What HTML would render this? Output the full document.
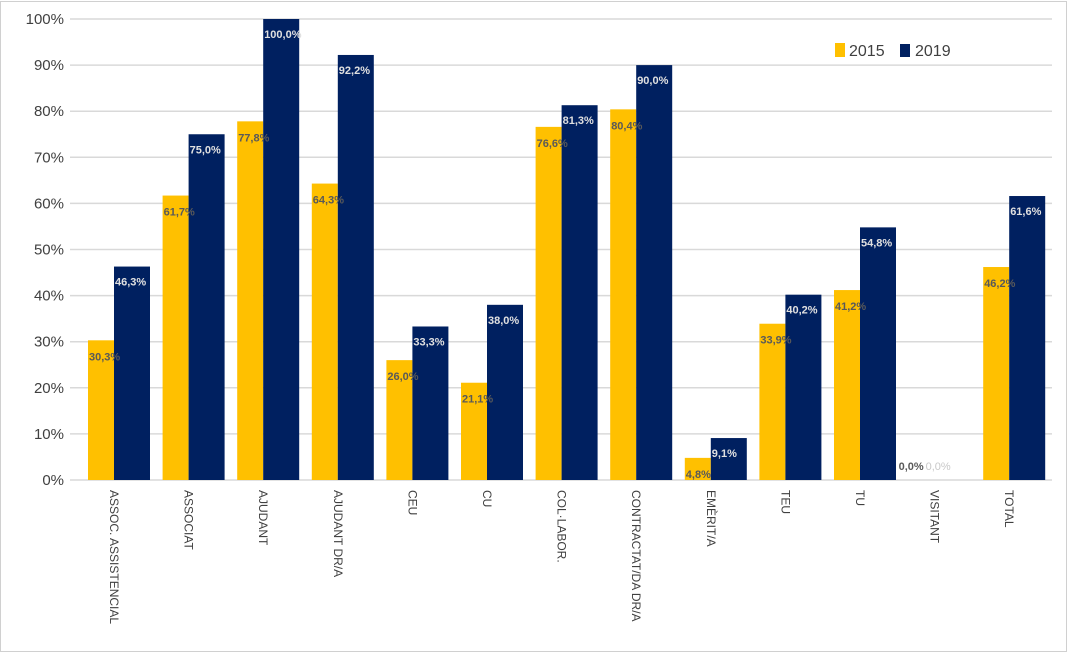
<!DOCTYPE html>
<html><head><meta charset="utf-8"><style>
html,body{margin:0;padding:0;background:#fff;}
svg{display:block;font-family:"Liberation Sans",sans-serif;}
</style></head><body>
<svg width="1068" height="653" viewBox="0 0 1068 653" xmlns="http://www.w3.org/2000/svg">
<rect x="0.5" y="1.5" width="1066" height="650" fill="#fff" stroke="#d0d0d0"/>
<g id="grid" stroke="#d9d9d9" stroke-width="1.5"></g>
<g id="yl" font-size="15" fill="#404040" text-anchor="end"></g>
<g id="bars"></g>
<g id="xl" font-size="12" fill="#404040"></g>
<rect x="835" y="43" width="10" height="14" fill="#FFC000"/>
<text x="849" y="56" font-size="16" fill="#404040">2015</text>
<rect x="900" y="44" width="10" height="13" fill="#002060"/>
<text x="915" y="56" font-size="16" fill="#404040">2019</text>
</svg>
<script>
const ns="http://www.w3.org/2000/svg";
function el(p,t,a,txt){const e=document.createElementNS(ns,t);for(const k in a)e.setAttribute(k,a[k]);if(txt!==undefined)e.textContent=txt;document.getElementById(p).appendChild(e);}
const y0=480,ppu=4.61;
for(let i=0;i<=10;i++){const y=y0-i*10*ppu;el('grid','line',{x1:70,x2:1052,y1:y,y2:y});el('yl','text',{x:64,y:y+5},(i*10)+'%');}
const cats=["ASSOC. ASSISTENCIAL","ASSOCIAT","AJUDANT","AJUDANT DR/A","CEU","CU","COL·LABOR.","CONTRACTAT/DA DR/A","EMÈRIT/A","TEU","TU","VISITANT","TOTAL"];
const a=[30.3,61.7,77.8,64.3,26.0,21.1,76.6,80.4,4.8,33.9,41.2,0,46.2];
const b=[46.3,75.0,100,92.2,33.3,38.0,81.3,90.0,9.1,40.2,54.8,0,61.6];
const f=v=>v.toFixed(1).replace('.',',')+'%';
cats.forEach((c,i)=>{
 const x=88+i*74.6;
 const ha=a[i]*ppu,hb=b[i]*ppu;
 el('bars','rect',{x:x,y:y0-ha,width:26,height:ha,fill:'#FFC000'});
 el('bars','rect',{x:x+26,y:y0-hb,width:36,height:hb,fill:'#002060'});
 if(a[i]>0){
  el('bars','text',{x:x+1,y:y0-ha+20,'font-size':11,'font-weight':'bold',fill:'#595959'},f(a[i]));
  el('bars','text',{x:x+27,y:y0-hb+19,'font-size':11,'font-weight':'bold',fill:'#e0e0e0'},f(b[i]));
 } else {
  el('bars','text',{x:x-10,y:y0-10,'font-size':11,'font-weight':'bold',fill:'#595959'},f(0));
  el('bars','text',{x:x+17,y:y0-10,'font-size':11,fill:'#c8c8c8'},f(0));
 }
 const lx=x+22;
 el('xl','text',{x:0,y:0,transform:`translate(${lx},490) rotate(90)`},c);
});
</script>
</body></html>
